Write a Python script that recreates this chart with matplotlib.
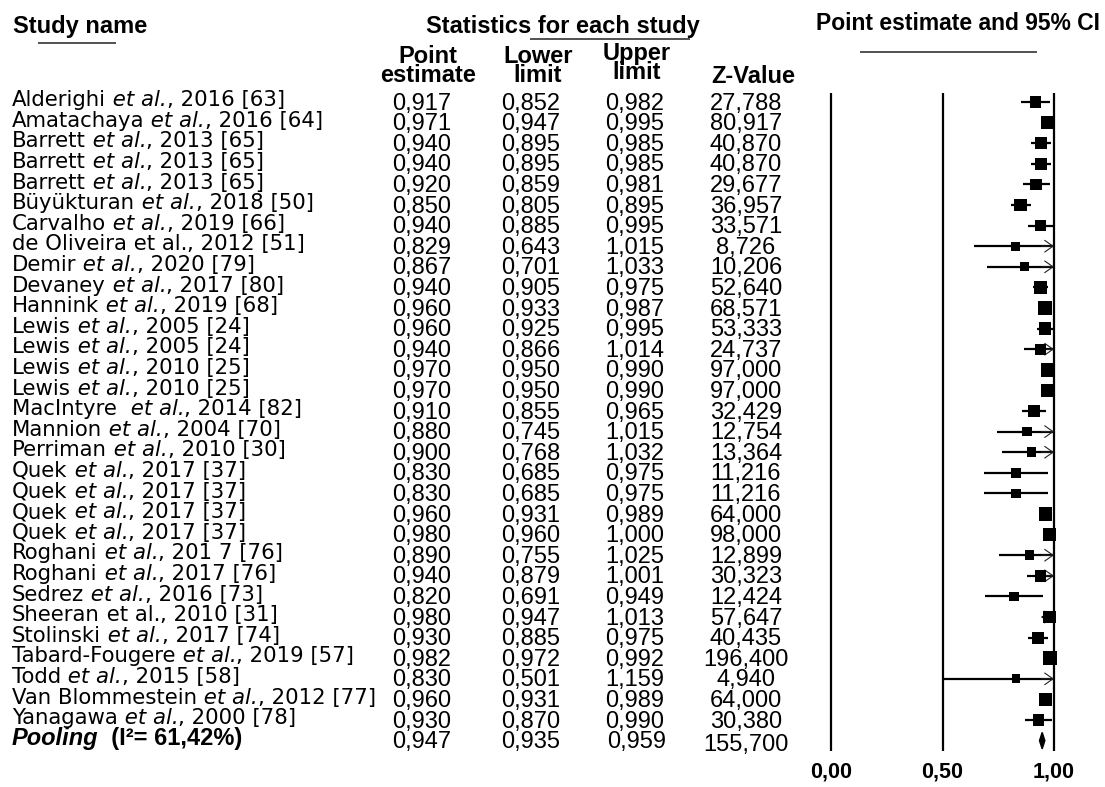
import numpy as np
import matplotlib.pyplot as plt

# study rows, top to bottom
authors = ["Alderighi", "Amatachaya", "Barrett", "Barrett", "Barrett", "Büyükturan",
           "Carvalho", "de Oliveira", "Demir", "Devaney", "Hannink", "Lewis", "Lewis",
           "Lewis", "Lewis", "MacIntyre ", "Mannion", "Perriman", "Quek", "Quek", "Quek",
           "Quek", "Roghani", "Roghani", "Sedrez", "Sheeran", "Stolinski",
           "Tabard-Fougere", "Todd", "Van Blommestein", "Yanagawa"]
years = ["2016", "2016", "2013", "2013", "2013", "2018", "2019", "2012", "2020", "2017",
         "2019", "2005", "2005", "2010", "2010", "2014", "2004", "2010", "2017", "2017",
         "2017", "2017", "201 7", "2017", "2016", "2010", "2017", "2019", "2015", "2012",
         "2000"]
refs = [63, 64, 65, 65, 65, 50, 66, 51, 79, 80, 68, 24, 24, 25, 25, 82, 70, 30, 37, 37,
        37, 37, 76, 76, 73, 31, 74, 57, 58, 77, 78]
plain_etal = ["de Oliveira", "Sheeran"]  # "et al." not in italics for these

point = [0.917, 0.971, 0.940, 0.940, 0.920, 0.850, 0.940, 0.829, 0.867, 0.940, 0.960,
         0.960, 0.940, 0.970, 0.970, 0.910, 0.880, 0.900, 0.830, 0.830, 0.960, 0.980,
         0.890, 0.940, 0.820, 0.980, 0.930, 0.982, 0.830, 0.960, 0.930]
lower = [0.852, 0.947, 0.895, 0.895, 0.859, 0.805, 0.885, 0.643, 0.701, 0.905, 0.933,
         0.925, 0.866, 0.950, 0.950, 0.855, 0.745, 0.768, 0.685, 0.685, 0.931, 0.960,
         0.755, 0.879, 0.691, 0.947, 0.885, 0.972, 0.501, 0.931, 0.870]
upper = [0.982, 0.995, 0.985, 0.985, 0.981, 0.895, 0.995, 1.015, 1.033, 0.975, 0.987,
         0.995, 1.014, 0.990, 0.990, 0.965, 1.015, 1.032, 0.975, 0.975, 0.989, 1.000,
         1.025, 1.001, 0.949, 1.013, 0.975, 0.992, 1.159, 0.989, 0.990]
zval = [27.788, 80.917, 40.870, 40.870, 29.677, 36.957, 33.571, 8.726, 10.206, 52.640,
        68.571, 53.333, 24.737, 97.000, 97.000, 32.429, 12.754, 13.364, 11.216, 11.216,
        64.000, 98.000, 12.899, 30.323, 12.424, 57.647, 40.435, 196.400, 4.940, 64.000,
        30.380]

pooled_point, pooled_lower, pooled_upper, pooled_z = 0.947, 0.935, 0.959, 155.700
i_squared = 61.42

ticks = [0.0, 0.5, 1.0]

ARIAL = "Liberation Sans"
NAME_FONT = "DejaVu Sans"
BLACK = "black"


def comma(v, nd=3):
    return f"{v:.{nd}f}".replace(".", ",")


n = len(authors)
rows = np.arange(n)
pool_row = n
ylim = (33.25, -4.95)

fig = plt.figure(figsize=(11.05, 7.87), dpi=100)

# table part: x in pixel-like units
tab = fig.add_axes([0, 0, 1, 1])
tab.set_xlim(0, 1105)
tab.set_ylim(*ylim)
tab.axis("off")

# forest part: x in estimate units, 0 -> 831 px, 1 -> 1054 px
fx = fig.add_axes([0, 0, 1, 1])
fx.set_xlim(-831 / 223, 274 / 223)
fx.set_ylim(*ylim)
fx.axis("off")
fx.patch.set_alpha(0)

# --- headers
hdr = dict(family=ARIAL, fontweight="bold", fontsize=17, va="baseline")
tab.text(13, -3.35, "Study name", ha="left", **hdr)
tab.text(563, -3.35, "Statistics for each study", ha="center", **hdr)
tab.text(958, -3.5, "Point estimate and 95% CI", ha="center",
         family=ARIAL, fontweight="bold", fontsize=16.5, va="baseline")
tab.hlines(-2.86, 38, 116, color="#333333", lw=1.2)
tab.hlines(-3.06, 530, 690, color="#333333", lw=1.2)
tab.hlines(-2.43, 860, 1037, color="#333333", lw=1.2)

# two-line column heads, lines set tight like the original
# (va="baseline" on a multi-line text anchors the last line)
sub = dict(family=ARIAL, fontweight="bold", fontsize=17, va="baseline", ha="center",
           multialignment="center", linespacing=0.76)
tab.text(428, -0.97, "Point\nestimate", **sub)
tab.text(538, -0.97, "Lower\nlimit", **sub)
tab.text(637, -1.12, "Upper\nlimit", **sub)
tab.text(753, -0.92, "Z-Value", **sub)

# --- study names with italic "et al."
NAME_SIZE = 15.3
name_kw = dict(family=NAME_FONT, fontsize=NAME_SIZE, va="baseline")
for i in range(n):
    t = tab.text(12, rows[i] + 0.2, authors[i], **name_kw)
    style = "normal" if authors[i] in plain_etal else "italic"
    t2 = tab.annotate(" et al.", xy=(1, 0), xycoords=t, va="bottom",
                      family=NAME_FONT, fontsize=NAME_SIZE, style=style)
    tab.annotate(f", {years[i]} [{refs[i]}]", xy=(1, 0), xycoords=t2, va="bottom",
                 family=NAME_FONT, fontsize=NAME_SIZE)

p = tab.text(12, pool_row + 0.2, "Pooling", family=ARIAL, fontsize=17,
             fontweight="bold", style="italic", va="baseline")
tab.annotate(f"  (I²= {comma(i_squared, 2)}%)", xy=(1, 0), xycoords=p, va="bottom",
             family=ARIAL, fontsize=17, fontweight="bold")

# --- numeric columns
num = dict(family=ARIAL, fontsize=17, va="baseline", ha="center")
for i in range(n):
    y = rows[i] + 0.37
    tab.text(422, y, comma(point[i]), **num)
    tab.text(531, y, comma(lower[i]), **num)
    tab.text(635, y, comma(upper[i]), **num)
    tab.text(746, y, comma(zval[i]), **num)
tab.text(422, pool_row + 0.37, comma(pooled_point), **num)
tab.text(531, pool_row + 0.37, comma(pooled_lower), **num)
tab.text(637, pool_row + 0.37, comma(pooled_upper), **num)
tab.text(746, pool_row + 0.5, comma(pooled_z), **num)

# --- forest plot
fx.vlines(ticks, -0.44, 31.5, color=BLACK, lw=1.6, zorder=1)
lo = np.array(lower)
hi = np.array(upper)
fx.hlines(rows, lo, np.minimum(hi, 1.0), color=BLACK, lw=1.6, zorder=2)
for r in rows[hi > 1.0]:
    fx.annotate("", xy=(1.0, r), xytext=(-9, 0), textcoords="offset points",
                arrowprops=dict(arrowstyle="->,head_length=0.6,head_width=0.42",
                                lw=0.8, color="#222222", shrinkA=0, shrinkB=0),
                zorder=2)

# marker size from random-effects style weights
se = (hi - lo) / 3.92
w = 1.0 / (se ** 2 + 0.001)
side_px = 8.5 + 5.5 * w / w.max()
fx.scatter(point, rows, marker="s", s=(side_px * 0.72) ** 2, color=BLACK,
           linewidths=0, zorder=3)

fx.fill([pooled_lower, pooled_point, pooled_upper, pooled_point],
        [pool_row, pool_row - 0.4, pool_row, pool_row + 0.4], color=BLACK, zorder=3)

for t in ticks:
    fx.text(t, 32.8, comma(t, 2), ha="center", va="baseline", family=ARIAL,
            fontweight="bold", fontsize=15.5)

fig.savefig("out.png", dpi=100)
